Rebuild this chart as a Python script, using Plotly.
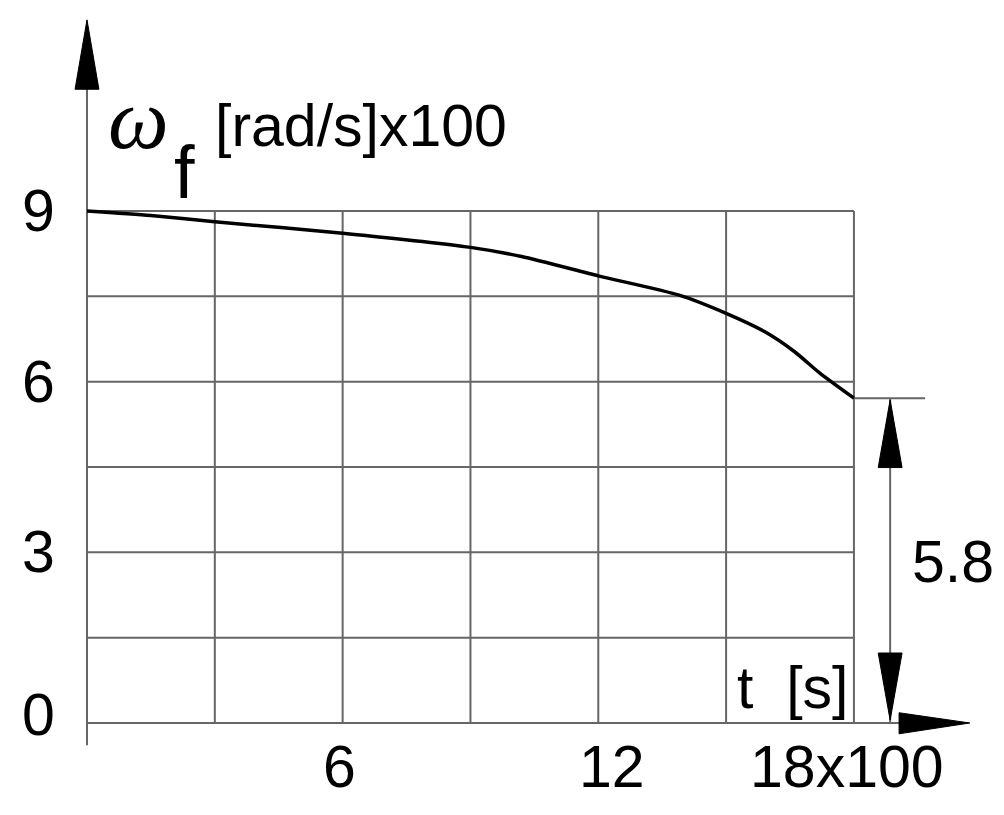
import plotly.graph_objects as go

# ---- data ----
t_values = [0, 1.5, 3, 6, 9, 10.2, 12, 13.9, 15, 15.9, 16.6, 17.2, 18]
omega_values = [9.0, 8.92, 8.81, 8.61, 8.36, 8.20, 7.86, 7.52, 7.20, 6.88, 6.53, 6.15, 5.71]
x_grid = [0, 3, 6, 9, 12, 15, 18]
y_grid = [0, 1.5, 3, 4.5, 6, 7.5, 9]
y_tick_vals = [0, 3, 6, 9]
y_tick_text = ["0", "3", "6", "9"]
x_tick_vals = [6, 12]
x_tick_text = ["6", "12"]
x_end_label = "18x100"
end_value_label = "5.8"
y_title = "[rad/s]x100"
x_title = "t  [s]"

X_MIN, X_MAX = -1.854, 21.71
Y_MIN, Y_MAX = -1.758, 12.568

FONT = "Liberation Sans, Arial, sans-serif"
GRID = "#666666"

fig = go.Figure()

# grid
for gx in x_grid:
    fig.add_trace(go.Scatter(x=[gx, gx], y=[0, y_grid[-1]], mode="lines",
                             line=dict(color=GRID, width=2), hoverinfo="skip", showlegend=False))
for gy in y_grid:
    fig.add_trace(go.Scatter(x=[0, x_grid[-1]], y=[gy, gy], mode="lines",
                             line=dict(color=GRID, width=2), hoverinfo="skip", showlegend=False))

# axes with arrows
fig.add_trace(go.Scatter(x=[0, 0], y=[-0.39, 11.3], mode="lines",
                         line=dict(color=GRID, width=2), hoverinfo="skip", showlegend=False))
fig.add_trace(go.Scatter(x=[-0.28, 0, 0.28, -0.28], y=[11.14, 12.36, 11.14, 11.14], mode="lines",
                         fill="toself", fillcolor="black", line=dict(color="black", width=1),
                         hoverinfo="skip", showlegend=False))
fig.add_trace(go.Scatter(x=[0, 19.2], y=[0, 0], mode="lines",
                         line=dict(color=GRID, width=2), hoverinfo="skip", showlegend=False))
fig.add_trace(go.Scatter(x=[19.06, 20.72, 19.06, 19.06], y=[0.18, 0.0, -0.19, 0.18], mode="lines",
                         fill="toself", fillcolor="black", line=dict(color="black", width=1),
                         hoverinfo="skip", showlegend=False))

# dimension for end value
end_v = omega_values[-1]
fig.add_trace(go.Scatter(x=[18, 19.67], y=[end_v, end_v], mode="lines",
                         line=dict(color=GRID, width=2), hoverinfo="skip", showlegend=False))
dim_x = 18.85
fig.add_trace(go.Scatter(x=[dim_x, dim_x], y=[0, end_v], mode="lines",
                         line=dict(color=GRID, width=2), hoverinfo="skip", showlegend=False))
fig.add_trace(go.Scatter(x=[dim_x - 0.28, dim_x, dim_x + 0.28, dim_x - 0.28],
                         y=[end_v - 1.22, end_v - 0.03, end_v - 1.22, end_v - 1.22], mode="lines",
                         fill="toself", fillcolor="black", line=dict(color="black", width=1),
                         hoverinfo="skip", showlegend=False))
fig.add_trace(go.Scatter(x=[dim_x - 0.28, dim_x, dim_x + 0.28, dim_x - 0.28],
                         y=[1.23, 0.05, 1.23, 1.23], mode="lines",
                         fill="toself", fillcolor="black", line=dict(color="black", width=1),
                         hoverinfo="skip", showlegend=False))

# curve
fig.add_trace(go.Scatter(x=t_values, y=omega_values, mode="lines",
                         line=dict(color="black", width=3.5, shape="spline", smoothing=0.7),
                         hoverinfo="skip", showlegend=False))

annotations = []
for v, txt in zip(y_tick_vals, y_tick_text):
    annotations.append(dict(x=-1.15, y=v, text=txt, showarrow=False,
                            yshift=8 if v == 0 else 0,
                            font=dict(family=FONT, size=59, color="black")))
for v, txt in zip(x_tick_vals, x_tick_text):
    annotations.append(dict(x=v, y=-0.77, text=txt, showarrow=False,
                            xshift=-3 if v == 6 else 14,
                            font=dict(family=FONT, size=59, color="black")))
annotations.append(dict(x=17.84, y=-0.77, text=x_end_label, showarrow=False,
                        font=dict(family=FONT, size=59, color="black")))
annotations.append(dict(x=20.32, y=2.83, text=end_value_label, showarrow=False,
                        font=dict(family=FONT, size=59, color="black")))
annotations.append(dict(x=17.9, y=0.62, text=x_title, showarrow=False, xanchor="right",
                        font=dict(family=FONT, size=59, color="black")))
annotations.append(dict(x=2.96, y=10.49, text=y_title, showarrow=False, xanchor="left",
                        font=dict(family=FONT, size=59, color="black")))
annotations.append(dict(x=1.2, y=10.62, text="<i>ω</i>", showarrow=False,
                        font=dict(family="Liberation Serif, serif", size=86, color="black")))
annotations.append(dict(x=2.3, y=9.68, text="f", showarrow=False,
                        font=dict(family=FONT, size=74, color="black")))

fig.update_layout(
    width=1004, height=815,
    margin=dict(l=0, r=0, t=0, b=0),
    paper_bgcolor="white", plot_bgcolor="white",
    xaxis=dict(range=[X_MIN, X_MAX], visible=False, fixedrange=True),
    yaxis=dict(range=[Y_MIN, Y_MAX], visible=False, fixedrange=True),
    annotations=annotations,
    showlegend=False,
)

fig.write_html("out.html")
